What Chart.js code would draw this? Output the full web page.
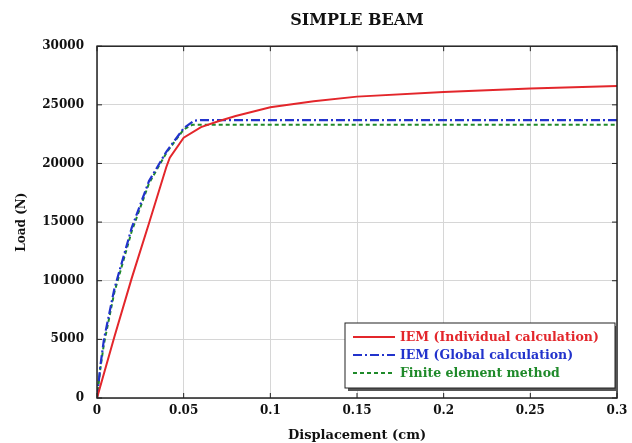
<!DOCTYPE html>
<html lang="en">
<head>
    <meta charset="UTF-8">
    <title>Simple Beam</title>
    <script src="https://cdn.jsdelivr.net/npm/chart.js"></script>
    <style>
        html, body { margin: 0; padding: 0; background: #ffffff; }
        .chart-container { width: 632px; height: 443px; }
    </style>
</head>
<body>

<div class="chart-container">
    <canvas id="beamChart" width="632" height="443"></canvas>
</div>

<script>
    // Data
    const redX = [0, 0.01, 0.02, 0.03, 0.04, 0.042, 0.05, 0.06, 0.07, 0.08, 0.1, 0.125, 0.15, 0.2, 0.25, 0.3];
    const redY = [0, 5200, 10200, 14900, 19700, 20500, 22200, 23100, 23600, 24050, 24800, 25300, 25700, 26100, 26400, 26600];

    const blueX = [0, 0.002, 0.004, 0.01, 0.02, 0.03, 0.04, 0.05, 0.056, 0.06, 0.1, 0.2, 0.3];
    const blueY = [0, 2800, 5000, 9300, 14500, 18500, 21000, 23000, 23650, 23700, 23700, 23700, 23700];

    const greenX = [0, 0.002, 0.004, 0.01, 0.02, 0.03, 0.04, 0.05, 0.055, 0.06, 0.1, 0.2, 0.3];
    const greenY = [0, 2600, 4600, 9000, 14200, 18300, 20900, 22900, 23300, 23300, 23300, 23300, 23300];

    const seriesNames = ['IEM (Individual calculation)', 'IEM (Global calculation)', 'Finite element method'];

    const xTickLabels = ['0', '0.05', '0.1', '0.15', '0.2', '0.25', '0.3'];
    const yTickLabels = ['0', '5000', '10000', '15000', '20000', '25000', '30000'];

    function toPoints(xs, ys) {
        return xs.map((x, i) => ({ x: x, y: ys[i] }));
    }

    const serif = "'DejaVu Serif', 'Liberation Serif', serif";

    // Frame with inward ticks (MATLAB style)
    const framePlugin = {
        id: 'frame',
        afterDraw(chart) {
            const { ctx, chartArea: a, scales } = chart;
            ctx.save();
            ctx.strokeStyle = '#222';
            ctx.lineWidth = 1.5;
            ctx.strokeRect(a.left, a.top, a.right - a.left, a.bottom - a.top);
            ctx.lineWidth = 1;
            scales.x.ticks.forEach(t => {
                const px = scales.x.getPixelForValue(t.value);
                ctx.beginPath();
                ctx.moveTo(px, a.bottom); ctx.lineTo(px, a.bottom - 5);
                ctx.moveTo(px, a.top); ctx.lineTo(px, a.top + 5);
                ctx.stroke();
            });
            scales.y.ticks.forEach(t => {
                const py = scales.y.getPixelForValue(t.value);
                ctx.beginPath();
                ctx.moveTo(a.left, py); ctx.lineTo(a.left + 5, py);
                ctx.moveTo(a.right, py); ctx.lineTo(a.right - 5, py);
                ctx.stroke();
            });
            ctx.restore();
        }
    };

    // Legend box inside the plot, bottom right
    const boxLegendPlugin = {
        id: 'boxLegend',
        afterDraw(chart) {
            const { ctx, chartArea: a } = chart;
            const w = 270, h = 65;
            const x0 = a.right - w - 2, y0 = a.bottom - h - 10;
            ctx.save();
            ctx.fillStyle = '#555';
            ctx.fillRect(x0 + 3, y0 + 3, w, h);
            ctx.fillStyle = '#fff';
            ctx.fillRect(x0, y0, w, h);
            ctx.strokeStyle = '#222';
            ctx.lineWidth = 1;
            ctx.strokeRect(x0, y0, w, h);
            ctx.font = 'bold 12.5px ' + serif;
            ctx.textBaseline = 'middle';
            chart.data.datasets.forEach((ds, i) => {
                const yy = y0 + 14 + i * 18;
                ctx.strokeStyle = ds.borderColor;
                ctx.lineWidth = 2;
                ctx.setLineDash(ds.borderDash || []);
                ctx.beginPath();
                ctx.moveTo(x0 + 8, yy);
                ctx.lineTo(x0 + 50, yy);
                ctx.stroke();
                ctx.setLineDash([]);
                ctx.fillStyle = ds.borderColor;
                ctx.fillText(ds.label, x0 + 55, yy + 1);
            });
            ctx.restore();
        }
    };

    const config = {
        type: 'line',
        data: {
            datasets: [{
                label: seriesNames[0],
                data: toPoints(redX, redY),
                borderColor: '#e3262b',
                borderWidth: 2,
                pointRadius: 0,
                tension: 0
            }, {
                label: seriesNames[1],
                data: toPoints(blueX, blueY),
                borderColor: '#2233cc',
                borderWidth: 2.2,
                borderDash: [9, 3, 2, 3],
                pointRadius: 0,
                tension: 0
            }, {
                label: seriesNames[2],
                data: toPoints(greenX, greenY),
                borderColor: '#1f8a2a',
                borderWidth: 2,
                borderDash: [4, 3],
                pointRadius: 0,
                tension: 0
            }]
        },
        options: {
            responsive: false,
            animation: false,
            layout: { padding: { left: 0, right: 15, top: 0, bottom: 0 } },
            plugins: {
                legend: { display: false },
                tooltip: { enabled: false },
                title: {
                    display: true,
                    text: 'SIMPLE BEAM',
                    fullSize: false,
                    color: '#111',
                    font: { family: serif, size: 16, weight: 'bold' },
                    padding: { top: 11, bottom: 16 }
                }
            },
            scales: {
                x: {
                    type: 'linear',
                    min: 0,
                    max: 0.3,
                    afterFit(scale) {
                        scale.height = 45;
                        scale.paddingLeft = 0;
                        scale.paddingRight = 0;
                    },
                    afterBuildTicks(scale) {
                        scale.ticks = xTickLabels.map(v => ({ value: parseFloat(v) }));
                    },
                    ticks: {
                        color: '#111',
                        font: { family: serif, size: 12, weight: 'bold' },
                        padding: 6,
                        maxRotation: 0,
                        callback: (v, i) => xTickLabels[i]
                    },
                    grid: { color: '#d6d6d6', tickLength: 0 },
                    border: { display: false },
                    title: {
                        display: true,
                        text: 'Displacement (cm)',
                        color: '#111',
                        font: { family: serif, size: 13, weight: 'bold' },
                        padding: { top: 0, bottom: 0 }
                    }
                },
                y: {
                    min: 0,
                    max: 30000,
                    afterFit(scale) { scale.width = 97; },
                    afterBuildTicks(scale) {
                        scale.ticks = yTickLabels.map(v => ({ value: parseFloat(v) }));
                    },
                    ticks: {
                        color: '#111',
                        font: { family: serif, size: 12, weight: 'bold' },
                        padding: 13,
                        callback: (v, i) => yTickLabels[i]
                    },
                    grid: { color: '#d6d6d6', tickLength: 0 },
                    border: { display: false },
                    title: {
                        display: true,
                        text: 'Load (N)',
                        color: '#111',
                        font: { family: serif, size: 12, weight: 'bold' },
                        padding: { top: 15, bottom: 0 }
                    }
                }
            }
        },
        plugins: [framePlugin, boxLegendPlugin]
    };

    const beamChart = new Chart(document.getElementById('beamChart'), config);
</script>

</body>
</html>
